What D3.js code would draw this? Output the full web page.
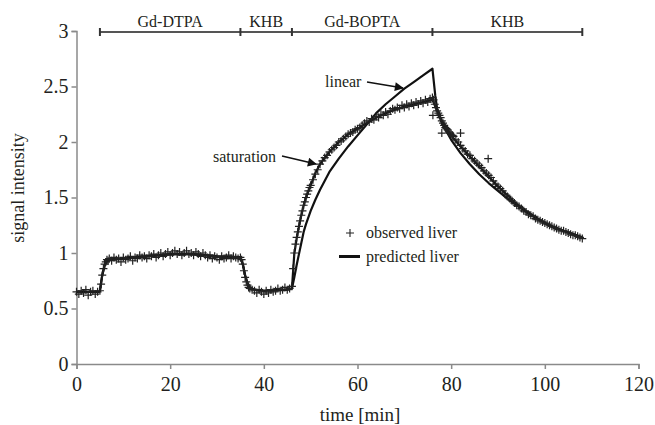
<!DOCTYPE html>
<html><head><meta charset="utf-8">
<script src="https://cdn.jsdelivr.net/npm/d3@7"></script>
<style>
html,body{margin:0;padding:0;background:#fff;}
svg{display:block;font-family:"Liberation Serif","Times New Roman",serif;}
</style></head>
<body><svg id="chart" width="655" height="425"></svg>
<script>
// ---- data ----
const obsTime = [
0,0.5,1,1.5,2,2.5,3,3.5,4,4.5,
5,5.25,5.5,5.75,6,6.25,6.5,6.75,7,
7.5,8,8.5,9,9.5,10,10.5,11,11.5,12,12.5,13,13.5,14,14.5,15,15.5,16,16.5,17,17.5,18,18.5,19,19.5,20,20.5,21,21.5,22,22.5,23,23.5,24,24.5,25,25.5,26,26.5,27,27.5,28,28.5,29,29.5,30,30.5,31,31.5,32,32.5,33,33.5,34,34.5,35,
35.25,35.5,35.75,36,36.25,36.5,36.75,37,37.5,38,
38.5,39,39.5,40,40.5,41,41.5,42,42.5,43,43.5,44,44.5,45,45.5,
46,46.25,46.5,46.75,47,47.25,47.5,47.75,48,48.25,48.5,48.75,49,49.25,49.5,49.75,50,
50.5,51,51.5,52,52.5,53,53.5,54,54.5,55,55.5,56,56.5,57,57.5,58,58.5,59,59.5,60,60.5,61,61.5,62,62.5,63,63.5,64,64.5,65,65.5,66,66.5,67,67.5,68,68.5,69,69.5,70,70.5,71,71.5,72,72.5,73,73.5,74,74.5,75,75.5,76,
76.25,76.5,76.75,77,77.25,77.5,77.75,78,78.25,78.5,78.75,79,79.25,79.5,79.75,80,
80.5,81,81.5,82,82.5,83,83.5,84,84.5,85,85.5,86,86.5,87,87.5,88,88.5,89,89.5,90,90.5,91,91.5,92,92.5,93,93.5,94,94.5,95,95.5,96,96.5,97,97.5,98,98.5,99,99.5,100,100.5,101,101.5,102,102.5,103,103.5,104,104.5,105,105.5,106,106.5,107,107.5,108,
76.1,78,82,87.9,80.3
];
const obsValue = [
0.65,0.63,0.66,0.64,0.67,0.62,0.65,0.66,0.63,0.65,
0.66,0.72,0.80,0.86,0.90,0.92,0.94,0.93,0.95,
0.93,0.96,0.94,0.95,0.92,0.96,0.94,0.95,0.97,0.93,0.96,0.95,0.98,0.96,0.97,0.95,0.98,0.97,0.99,0.96,0.98,1.00,0.97,0.99,1.01,0.98,1.00,1.02,0.99,1.01,0.98,1.00,1.02,0.99,1.00,0.98,1.01,0.99,0.97,1.00,0.98,0.96,0.98,0.95,0.97,0.96,0.94,0.97,0.95,0.96,0.98,0.95,0.97,0.96,0.95,0.96,
0.94,0.90,0.84,0.78,0.74,0.71,0.69,0.68,0.67,0.66,
0.64,0.67,0.65,0.63,0.66,0.64,0.67,0.65,0.66,0.68,0.66,0.67,0.69,0.67,0.68,
0.70,0.86,1.00,1.08,1.14,1.19,1.24,1.29,1.34,1.38,1.43,1.46,1.50,1.53,1.56,1.59,1.61,
1.66,1.71,1.75,1.80,1.83,1.86,1.88,1.91,1.93,1.95,1.97,2.00,2.01,2.03,2.05,2.07,2.08,2.09,2.11,2.12,2.13,2.15,2.17,2.19,2.18,2.21,2.20,2.23,2.22,2.25,2.24,2.27,2.25,2.28,2.30,2.29,2.31,2.30,2.33,2.31,2.34,2.32,2.35,2.33,2.36,2.34,2.37,2.35,2.38,2.36,2.39,2.40,
2.38,2.34,2.31,2.28,2.26,2.24,2.22,2.19,2.17,2.15,2.13,2.12,2.11,2.09,2.08,2.07,
2.05,2.02,2.00,1.97,1.94,1.92,1.89,1.88,1.85,1.83,1.81,1.79,1.77,1.74,1.72,1.70,1.68,1.65,1.62,1.60,1.58,1.56,1.53,1.51,1.49,1.47,1.45,1.43,1.42,1.40,1.38,1.37,1.35,1.34,1.33,1.31,1.30,1.29,1.28,1.27,1.26,1.25,1.24,1.23,1.22,1.21,1.20,1.20,1.19,1.18,1.17,1.16,1.16,1.15,1.14,1.13,
2.24,2.08,2.08,1.85,2.06
];

const satTime = [0,4.8,5,5.5,6,6.5,7,10,15,20,25,30,35,35.5,36,36.5,37,38,40,45,46,46.5,47,47.5,48,48.5,49,50,51,52,54,56,58,60,62,64,66,68,70,72,74,76,77,78,80,82,84,86,88,90,92,94,96,98,100,102,104,106,108];
const satValue = [0.65,0.65,0.66,0.80,0.89,0.93,0.94,0.95,0.97,0.99,0.99,0.97,0.96,0.90,0.80,0.73,0.69,0.67,0.66,0.67,0.68,0.99,1.13,1.24,1.34,1.43,1.50,1.61,1.72,1.80,1.91,2.00,2.07,2.12,2.17,2.22,2.26,2.29,2.32,2.34,2.36,2.38,2.28,2.19,2.06,1.96,1.87,1.78,1.69,1.60,1.52,1.44,1.38,1.32,1.27,1.23,1.20,1.17,1.14];

const linTime = [0,4.8,5,5.5,6,6.5,7,10,15,20,25,30,35,35.5,36,36.5,37,38,40,45,46,46.5,47,47.5,48,48.5,49,50,51,52,54,56,58,60,62,64,66,68,70,72,74,76,76.6,77,78,80,82,84,86,88,90,92,94,96,98,100,102,104,106,108];
const linValue = [0.65,0.65,0.66,0.80,0.89,0.93,0.94,0.95,0.97,0.99,0.99,0.97,0.96,0.90,0.80,0.73,0.69,0.67,0.66,0.67,0.68,0.78,0.89,0.99,1.09,1.19,1.26,1.38,1.48,1.57,1.73,1.85,1.96,2.06,2.16,2.26,2.34,2.41,2.48,2.54,2.60,2.66,2.42,2.30,2.17,2.02,1.90,1.80,1.71,1.63,1.56,1.49,1.43,1.37,1.32,1.27,1.23,1.20,1.17,1.14];

const phaseBounds = [5,35,46,76,108];
const phaseLabels = ["Gd-DTPA","KHB","Gd-BOPTA","KHB"];
const xTicks = [0,20,40,60,80,100,120];
const yTicks = [0,0.5,1,1.5,2,2.5,3];

// ---- layout ----
const svg = d3.select("#chart");
const x = d3.scaleLinear().domain([0,120]).range([76.5,638.5]);
const y = d3.scaleLinear().domain([0,3]).range([364,31]);
const axisColor = "#8a8a8a";
const textColor = "#231f20";

// axes
const xAxis = svg.append("g").attr("transform","translate(0,364)")
  .call(d3.axisBottom(x).tickValues(xTicks).tickSize(5).tickPadding(8).tickFormat(d3.format("d")));
const yAxis = svg.append("g").attr("transform","translate(76.5,0)")
  .call(d3.axisLeft(y).tickValues(yTicks).tickSize(5).tickPadding(3).tickFormat(d => String(d)));
[xAxis,yAxis].forEach(g=>{
  g.attr("font-family",null);
  g.select(".domain").attr("stroke",axisColor).attr("stroke-width",1.5);
  g.selectAll(".tick line").attr("stroke",axisColor).attr("stroke-width",1.5);
  g.selectAll(".tick text").attr("fill",textColor).style("font-size","20px").style("font-family","Liberation Serif");
});

// axis titles
svg.append("text").attr("x",360).attr("y",421).attr("text-anchor","middle")
  .attr("fill",textColor).style("font-size","19px").text("time [min]");
svg.append("text").attr("transform","translate(24,188) rotate(-90)").attr("text-anchor","middle")
  .attr("fill",textColor).style("font-size","18px").text("signal intensity");

// phase bar
const barY = y(3) + 1;
svg.append("line").attr("x1",x(phaseBounds[0])).attr("x2",x(phaseBounds[phaseBounds.length-1]))
  .attr("y1",barY).attr("y2",barY).attr("stroke","#555").attr("stroke-width",2);
svg.selectAll(".ptick").data(phaseBounds).enter().append("line")
  .attr("x1",d=>x(d)).attr("x2",d=>x(d)).attr("y1",barY-4).attr("y2",barY+4)
  .attr("stroke","#333").attr("stroke-width",2);
svg.selectAll(".plabel").data(phaseLabels).enter().append("text")
  .attr("x",(d,i)=>(x(phaseBounds[i])+x(phaseBounds[i+1]))/2).attr("y",barY-5)
  .attr("text-anchor","middle").attr("fill",textColor).style("font-size","16px").text(d=>d);

// predicted lines
const line = d3.line().x(d=>x(d[0])).y(d=>y(d[1]));
svg.append("path").datum(linTime.map((t,i)=>[t,linValue[i]]))
  .attr("d",line).attr("fill","none").attr("stroke","#111").attr("stroke-width",2.2).attr("stroke-linejoin","round");
svg.append("path").datum(satTime.map((t,i)=>[t,satValue[i]]))
  .attr("d",line).attr("fill","none").attr("stroke","#111").attr("stroke-width",2.2).attr("stroke-linejoin","round");

// observed markers
const m = 4;
svg.append("g").selectAll("path").data(obsTime.map((t,i)=>[t,obsValue[i]])).enter().append("path")
  .attr("d",d=>`M${x(d[0])-m},${y(d[1])}h${2*m}M${x(d[0])},${y(d[1])-m}v${2*m}`)
  .attr("stroke","#222").attr("stroke-width",1.2).attr("fill","none");

// annotations with arrows
const defs = svg.append("defs");
defs.append("marker").attr("id","arr").attr("viewBox","0 0 10 10").attr("refX",9).attr("refY",5)
  .attr("markerWidth",8).attr("markerHeight",6).attr("orient","auto")
  .append("path").attr("d","M0,0L10,5L0,10z").attr("fill","#111");
svg.append("text").attr("x",325).attr("y",87).attr("fill",textColor).style("font-size","16px").text("linear");
svg.append("line").attr("x1",367).attr("y1",82).attr("x2",403).attr("y2",88)
  .attr("stroke","#111").attr("stroke-width",1.5).attr("marker-end","url(#arr)");
svg.append("text").attr("x",213).attr("y",162).attr("fill",textColor).style("font-size","16px").text("saturation");
svg.append("line").attr("x1",282).attr("y1",156).attr("x2",316).attr("y2",164)
  .attr("stroke","#111").attr("stroke-width",1.5).attr("marker-end","url(#arr)");

// legend
svg.append("path").attr("d","M346,233h8M350,229v8").attr("stroke","#222").attr("stroke-width",1.1);
svg.append("text").attr("x",366).attr("y",238).attr("fill",textColor).style("font-size","16px").text("observed liver");
svg.append("line").attr("x1",339).attr("x2",360).attr("y1",256.5).attr("y2",256.5).attr("stroke","#111").attr("stroke-width",3);
svg.append("text").attr("x",366).attr("y",262).attr("fill",textColor).style("font-size","16px").text("predicted liver");
</script></body></html>
